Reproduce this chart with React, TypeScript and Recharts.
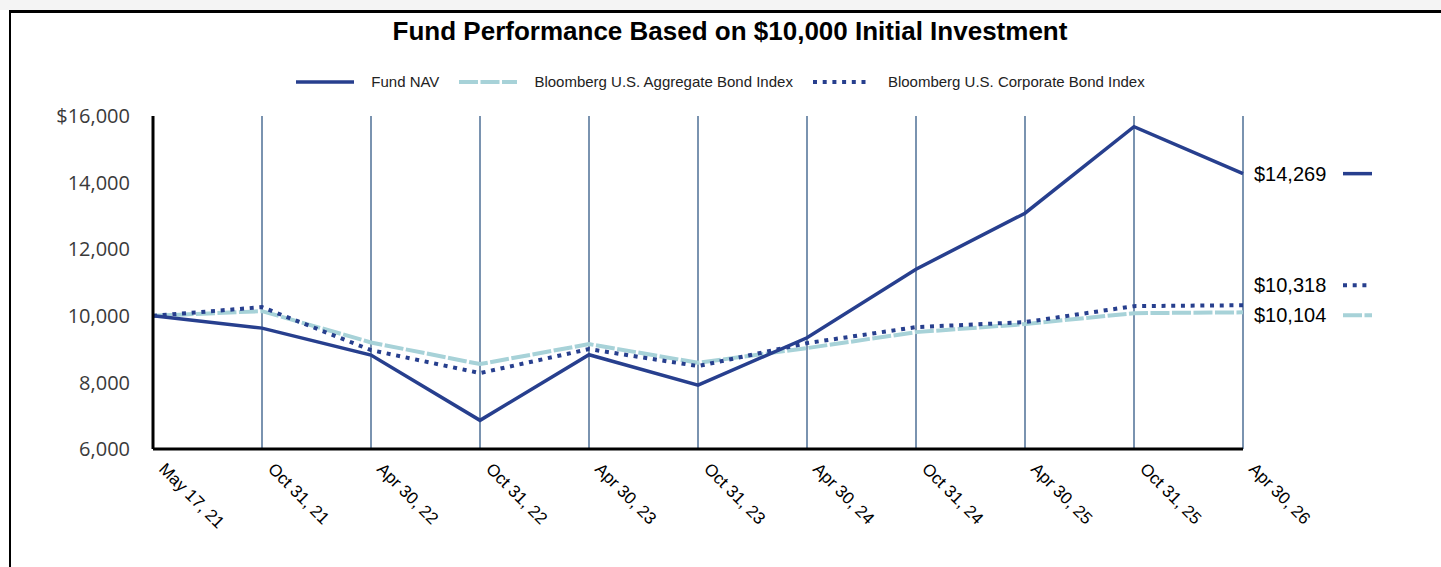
import React from 'react';
import { LineChart, Line, XAxis, YAxis, CartesianGrid } from 'recharts';

const dates = [
  'May 17, 21', 'Oct 31, 21', 'Apr 30, 22', 'Oct 31, 22', 'Apr 30, 23', 'Oct 31, 23',
  'Apr 30, 24', 'Oct 31, 24', 'Apr 30, 25', 'Oct 31, 25', 'Apr 30, 26',
];
const fundNav = [10000, 9630, 8820, 6860, 8830, 7920, 9340, 11400, 13080, 15680, 14269];
const aggregateIndex = [10000, 10140, 9200, 8550, 9150, 8590, 9030, 9510, 9750, 10080, 10104];
const corporateIndex = [10000, 10260, 8970, 8280, 9000, 8490, 9180, 9660, 9810, 10290, 10318];
const yTicks = [6000, 8000, 10000, 12000, 14000, 16000];

const NAVY = '#273f8e';
const LIGHT = '#a7d2d8';
const GRID = '#4e6f96';
const SANS = "Arial, 'Liberation Sans', sans-serif";

const data = dates.map((d, i) => ({
  date: d,
  fund: fundNav[i],
  agg: aggregateIndex[i],
  corp: corporateIndex[i],
}));

const seriesInfo = [
  { key: 'fund', name: 'Fund NAV', color: NAVY, width: 3.5, dash: undefined as string | undefined, labelDy: 0 },
  { key: 'agg', name: 'Bloomberg U.S. Aggregate Bond Index', color: LIGHT, width: 4, dash: '19 2.5', labelDy: 3 },
  { key: 'corp', name: 'Bloomberg U.S. Corporate Bond Index', color: NAVY, width: 4, dash: '4 5.7', labelDy: -20 },
];

const XTick = (props: any) => {
  const { x, y, payload } = props;
  return (
    <g transform={`translate(${x + 5},${y + 13}) rotate(45)`}>
      <text x={0} y={0} textAnchor="start" fontSize={17} fontFamily={SANS} fill="#000">
        {payload.value}
      </text>
    </g>
  );
};

const endLabel = (s: typeof seriesInfo[number]) => (props: any) => {
  const { x, y, index, value } = props;
  if (index !== dates.length - 1) return null;
  return (
    <g key={`end-${s.key}`}>
      <text x={x + 11} y={y + s.labelDy} dominantBaseline="central" fontSize={20} fontFamily={SANS} fill="#000">
        {'$' + Number(value).toLocaleString('en-US')}
      </text>
      <line
        x1={x + 100}
        x2={x + 129}
        y1={y + s.labelDy}
        y2={y + s.labelDy}
        stroke={s.color}
        strokeWidth={s.width}
        strokeDasharray={s.dash}
      />
    </g>
  );
};

const LegendRow = () => (
  <div
    style={{
      position: 'absolute', left: 0, top: 73, width: 1441, display: 'flex', justifyContent: 'center',
      alignItems: 'center', fontFamily: SANS, fontSize: 15, color: '#222', lineHeight: '18px',
    }}
  >
    {seriesInfo.map((s, i) => (
      <div key={s.key} style={{ display: 'flex', alignItems: 'center', marginRight: i < 2 ? 20 : 0 }}>
        <svg width={58} height={8} style={{ marginRight: 17 }}>
          <line x1={0} x2={58} y1={4} y2={4} stroke={s.color} strokeWidth={s.width} strokeDasharray={s.dash} />
        </svg>
        <span>{s.name}</span>
      </div>
    ))}
  </div>
);

const App: React.FC = () => {
  return (
    <div style={{ position: 'absolute', left: 0, top: 0, width: 1441, height: 567, overflow: 'hidden', background: '#fff' }}>
      <div style={{ position: 'absolute', left: 0, top: 0, width: 1441, height: 10, background: '#f4f4f4' }} />
      <div
        style={{
          position: 'absolute', left: 9, top: 10, width: 1500, height: 600,
          borderTop: '3px solid #000', borderLeft: '2px solid #000',
        }}
      />
      <div
        style={{
          position: 'absolute', left: 0, top: 15, width: 1460, textAlign: 'center',
          fontFamily: SANS, fontWeight: 'bold', fontSize: 26, color: '#000', lineHeight: '32px',
        }}
      >
        Fund Performance Based on $10,000 Initial Investment
      </div>
      <LegendRow />
      <div style={{ position: 'absolute', left: 0, top: 0 }}>
        <LineChart width={1441} height={567} data={data} margin={{ top: 116, right: 198, bottom: 18, left: 93 }}>
          <CartesianGrid horizontal={false} vertical stroke={GRID} strokeWidth={1.5} />
          <XAxis
            dataKey="date"
            scale="point"
            padding={{ left: 0, right: 0 }}
            height={100}
            tickLine={false}
            axisLine={{ stroke: '#000', strokeWidth: 3 }}
            tick={<XTick />}
            interval={0}
          />
          <YAxis
            domain={[6000, 16000]}
            ticks={yTicks}
            width={60}
            tickLine={false}
            tickMargin={17}
            axisLine={{ stroke: '#000', strokeWidth: 3 }}
            tick={{ fill: '#3a3a3a', fontSize: 20, fontFamily: "'Open Sans'" }}
            tickFormatter={(v: number) => (v === 16000 ? '$16,000' : v.toLocaleString('en-US'))}
          />
          {[seriesInfo[1], seriesInfo[2], seriesInfo[0]].map((s) => (
            <Line
              key={s.key}
              dataKey={s.key}
              name={s.name}
              type="linear"
              stroke={s.color}
              strokeWidth={s.width}
              strokeDasharray={s.dash}
              dot={false}
              activeDot={false}
              isAnimationActive={false}
              label={endLabel(s)}
            />
          ))}
        </LineChart>
      </div>
    </div>
  );
};

export default App;
